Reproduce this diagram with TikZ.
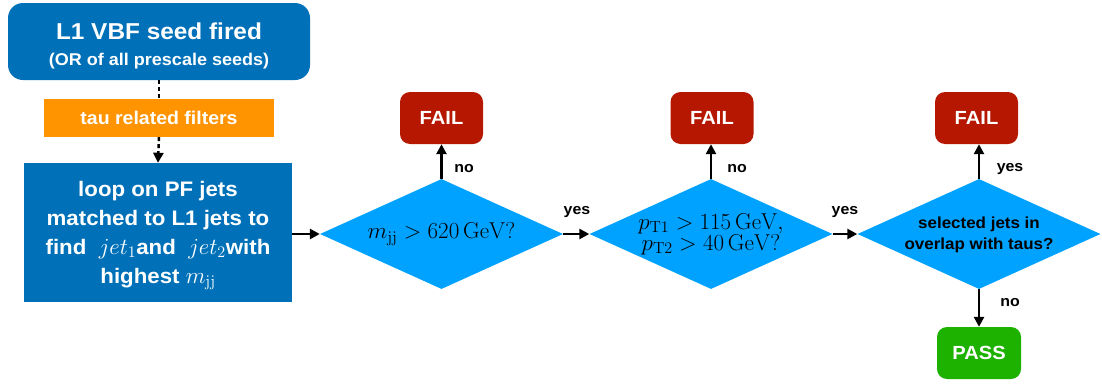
\RequirePackage{fix-cm}
\documentclass[tikz,border=0pt]{standalone}
\usepackage[no-math]{fontspec}
\setmainfont[FakeStretch=1.06]{Liberation Sans}
\usetikzlibrary{shapes.geometric,arrows.meta}
\definecolor{kblue}{HTML}{0071B8}
\definecolor{dblue}{HTML}{00A2FF}
\definecolor{kred}{HTML}{B51700}
\definecolor{kgreen}{HTML}{1DB100}
\definecolor{korange}{HTML}{FF9300}
\tikzset{
  topbox/.style={fill=kblue, rounded corners=15pt, minimum width=302pt, minimum height=77pt, text=white, font=\bfseries\fontsize{17}{26}\selectfont, align=center, inner sep=0pt},
  filterbox/.style={fill=korange, minimum width=230pt, minimum height=38pt, text=white, font=\bfseries\fontsize{18.4}{20}\selectfont, inner sep=0pt},
  loopbox/.style={fill=kblue, minimum width=268pt, minimum height=139pt, text=white, font=\bfseries\fontsize{21}{29}\selectfont, align=center, inner sep=0pt},
  decision/.style={diamond, aspect=2.2, fill=dblue, minimum width=243pt, minimum height=110pt, inner sep=0pt, align=center},
  failbox/.style={fill=kred, rounded corners=10pt, minimum width=83pt, minimum height=52pt, text=white, font=\bfseries\fontsize{19}{22}\selectfont, inner sep=0pt},
  passbox/.style={fill=kgreen, rounded corners=10pt, minimum width=84pt, minimum height=52pt, text=white, font=\bfseries\fontsize{19}{22}\selectfont, inner sep=0pt},
  arr/.style={line width=2.5pt, -{Triangle[length=10pt,width=10pt]}},
  dotline/.style={line width=2.5pt, dash pattern=on 4pt off 3pt},
  lbl/.style={font=\bfseries\fontsize{15}{17}\selectfont, inner sep=0pt}
}
\newcommand{\bigmath}[1]{{\fontsize{23}{29}\selectfont$#1$}}
\begin{document}
\begin{tikzpicture}[x=1pt,y=-1pt]
\useasboundingbox (0,0) rectangle (1102,383);
\node[topbox] (seed) at (159,41.5) {\rule{0pt}{25pt}{\fontsize{23}{26}\selectfont L1 VBF seed fired}\\{\fontsize{17}{20}\selectfont (OR of all prescale seeds)}};
\node[filterbox] (tau) at (159,118) {tau related filters};
\node[loopbox] (loop) at (158,232.5) {\rule{0pt}{21.5pt}loop on PF jets\\matched to L1 jets to\\find \ \bigmath{jet_1}and \ \bigmath{jet_2}with\\highest \bigmath{m_{\mathrm{jj}}}};
\node[decision] (d1) at (441.5,234) {\fontsize{23}{26}\selectfont $m_{\mathrm{jj}} > 620\,\mathrm{GeV}?$};
\node[decision, font=\fontsize{23}{21}\selectfont] (d2) at (711,234) {$p_{\mathrm{T}1} > 115\,\mathrm{GeV},$\\$p_{\mathrm{T}2} > 40\,\mathrm{GeV}?$};
\node[decision, font=\bfseries\fontsize{16}{21}\selectfont] (d3) at (979,234) {\rule{0pt}{13.5pt}selected jets in\\overlap with taus?};
\node[failbox] (f1) at (441.5,118) {FAIL};
\node[failbox] (f2) at (712,118) {FAIL};
\node[failbox] (f3) at (976.5,118) {FAIL};
\node[passbox] (pass) at (979,353) {PASS};
\draw[dotline] (seed.south) -- (tau.north);
\draw[dotline, -{Triangle[length=10pt,width=10pt]}] (tau.south) -- (loop.north);
\draw[arr] (loop.east |- d1.west) -- (d1.west);
\draw[arr] (d1.north) -- (f1.south);
\draw[arr] (d1.east) -- (d2.west);
\draw[arr] (d2.north) -- (f2.south -| d2.north);
\draw[arr] (d2.east) -- (d3.west);
\draw[arr] (d3.north) -- (d3.north |- f3.south);
\draw[arr] (d3.south) -- (pass.north);
\node[lbl] (l1) at (464,169) {no};
\node[lbl] (l2) at (577,212) {yes};
\node[lbl] (l3) at (737,169) {no};
\node[lbl] (l4) at (845,212) {yes};
\node[lbl] (l5) at (1010,169) {yes};
\node[lbl] (l6) at (1010,303) {no};
\end{tikzpicture}
\end{document}
